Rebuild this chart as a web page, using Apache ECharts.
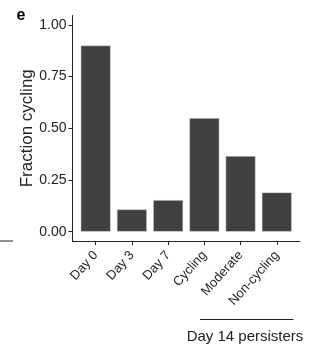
<!DOCTYPE html>
<html><head><meta charset="utf-8">
<script src="https://cdn.jsdelivr.net/npm/echarts@6/dist/echarts.min.js"></script>
<style>html,body{margin:0;padding:0;background:#fff}#c{width:320px;height:354px}</style>
</head><body><div id="c"></div>
<script>
const categories = ['Day 0', 'Day 3', 'Day 7', 'Cycling', 'Moderate', 'Non-cycling'];
const fractionCycling = [0.900, 0.108, 0.153, 0.549, 0.366, 0.190];
const yTicks = [0, 0.25, 0.5, 0.75, 1];
const yTickLabels = ['0.00', '0.25', '0.50', '0.75', '1.00'];
const groupLabel = 'Day 14 persisters';
const panelLabel = 'e';
const yTitle = 'Fraction cycling';

const xPositions = categories.map((c, i) => i);
const font = "'Liberation Sans', Arial, sans-serif";
const chart = echarts.init(document.getElementById('c'), null, {renderer: 'canvas'});
chart.setOption({
  animation: false,
  backgroundColor: '#fff',
  grid: {left: 72.5, right: 20, top: 15.5, bottom: 113},
  xAxis: {
    type: 'value', min: -0.64, max: 5.64,
    splitLine: {show: false},
    axisLine: {show: true, onZero: false, lineStyle: {color: '#222', width: 1}},
    axisTick: {show: true, customValues: xPositions, length: 4, lineStyle: {color: '#222'}},
    axisLabel: {customValues: xPositions, rotate: 48, margin: 12, fontSize: 13, color: '#222', fontFamily: font,
      formatter: v => categories[Math.round(v)]}
  },
  yAxis: {
    type: 'value', min: -0.045, max: 1.045,
    name: yTitle, nameLocation: 'middle', nameGap: 37, nameMoveOverlap: false,
    nameTextStyle: {fontSize: 17, color: '#222', fontFamily: font},
    splitLine: {show: false},
    axisLine: {show: true, onZero: false, lineStyle: {color: '#222', width: 1}},
    axisTick: {show: true, customValues: yTicks, length: 4, lineStyle: {color: '#222'}},
    axisLabel: {customValues: yTicks, margin: 6, fontSize: 14, color: '#222', fontFamily: font,
      formatter: v => yTickLabels[yTicks.findIndex(t => Math.abs(t - v) < 1e-6)]}
  },
  series: [{
    type: 'bar', barWidth: 30,
    data: fractionCycling.map((v, i) => [xPositions[i], v]),
    itemStyle: {color: '#414141', borderColor: '#e8e8e8', borderWidth: 0.5}
  }],
  graphic: [
    {type: 'text', left: 16.5, top: 7.5, style: {text: panelLabel, font: "bold 16px " + font, fill: '#000'}},
    {type: 'line', shape: {x1: 0, y1: 241, x2: 13, y2: 241}, style: {stroke: '#222', lineWidth: 1}},
    {type: 'line', shape: {x1: 200, y1: 319.5, x2: 293.5, y2: 319.5}, style: {stroke: '#222', lineWidth: 1}},
    {type: 'text', x: 245, y: 336.5, style: {text: groupLabel, font: "15px " + font, fill: '#222', textAlign: 'center', textVerticalAlign: 'middle'}}
  ]
});
</script></body></html>
